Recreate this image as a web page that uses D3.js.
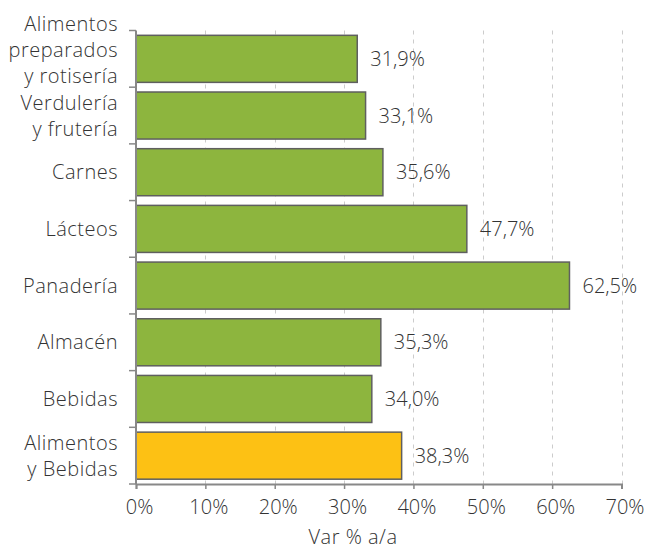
<!DOCTYPE html>
<html>
<head>
<meta charset="utf-8">
<script src="https://cdn.jsdelivr.net/npm/d3@7"></script>
<style>
  html, body { margin: 0; padding: 0; background: #fff; }
  svg text { font-family: "Open Sans", "Lato", sans-serif; font-weight: 300; fill: #333; }
</style>
</head>
<body>
<svg id="chart" width="646" height="549"></svg>
<script>
// Year-over-year price variation by product group
const categories = [
  "Alimentos preparados y rotisería",
  "Verdulería y frutería",
  "Carnes",
  "Lácteos",
  "Panadería",
  "Almacén",
  "Bebidas",
  "Alimentos y Bebidas"
];
const categoryLines = [
  ["Alimentos", "preparados", "y rotisería"],
  ["Verdulería", "y frutería"],
  ["Carnes"],
  ["Lácteos"],
  ["Panadería"],
  ["Almacén"],
  ["Bebidas"],
  ["Alimentos", "y Bebidas"]
];
const values = [31.9, 33.1, 35.6, 47.7, 62.5, 35.3, 34.0, 38.3];
const highlight = [false, false, false, false, false, false, false, true];
const xTicks = [0, 10, 20, 30, 40, 50, 60, 70];
const xTitle = "Var % a/a";

const svg = d3.select("#chart");
const margin = { top: 30.5, left: 136 };
const innerW = 621.5 - margin.left;
const innerH = 484 - margin.top;

const g = svg.append("g").attr("transform", `translate(${margin.left},${margin.top})`);

const x = d3.scaleLinear().domain([0, 70]).range([0, innerW]);
const y = d3.scaleBand().domain(categories).range([0, innerH]).paddingInner(0.17).paddingOuter(0.085);

const fmt = v => d3.format(".1f")(v).replace(".", ",") + "%";

// dashed vertical gridlines
g.append("g")
  .selectAll("line")
  .data(xTicks.filter(t => t > 0))
  .join("line")
  .attr("x1", d => Math.round(x(d)) + 0.5)
  .attr("x2", d => Math.round(x(d)) + 0.5)
  .attr("y1", 0)
  .attr("y2", innerH)
  .attr("stroke", "#cccccc")
  .attr("stroke-width", 1)
  .attr("stroke-dasharray", "4,5");

// bars
g.append("g")
  .selectAll("rect")
  .data(categories)
  .join("rect")
  .attr("x", 0)
  .attr("y", d => y(d))
  .attr("width", (d, i) => x(values[i]))
  .attr("height", y.bandwidth())
  .attr("fill", (d, i) => highlight[i] ? "#fdc114" : "#8db53e")
  .attr("stroke", "#5f5f5f")
  .attr("stroke-width", 1.5);

// value labels
g.append("g")
  .selectAll("text")
  .data(categories)
  .join("text")
  .attr("x", (d, i) => x(values[i]) + 13)
  .attr("y", d => y(d) + y.bandwidth() / 2)
  .attr("dy", "0.36em")
  .attr("font-size", 20)
  .text((d, i) => fmt(values[i]));

// y axis (category boundaries as ticks)
const yAxisG = g.append("g");
yAxisG.append("line")
  .attr("x1", 0).attr("x2", 0).attr("y1", 0).attr("y2", innerH)
  .attr("stroke", "#888").attr("stroke-width", 2);
const bounds = d3.range(categories.length + 1).map(i => i * innerH / categories.length);
yAxisG.selectAll("line.tk")
  .data(bounds)
  .join("line")
  .attr("class", "tk")
  .attr("x1", -7).attr("x2", 0)
  .attr("y1", d => d).attr("y2", d => d)
  .attr("stroke", "#888").attr("stroke-width", 1.5);

// category labels; three-line labels sit a little higher in their band
const lineH = 26;
g.append("g")
  .selectAll("text")
  .data(categories)
  .join("text")
  .attr("text-anchor", "end")
  .attr("font-size", 20)
  .attr("letter-spacing", 0.5)
  .each(function(d, i) {
    const lines = categoryLines[i];
    const shift = lines.length > 2 ? -lineH / 3 : 0;
    const cy = y(d) + y.bandwidth() / 2 + shift;
    const t = d3.select(this);
    lines.forEach((ln, j) => {
      t.append("tspan")
        .attr("x", -18)
        .attr("y", cy + (j - (lines.length - 1) / 2) * lineH)
        .attr("dy", "0.36em")
        .text(ln);
    });
  });

// x axis
const xAxis = d3.axisBottom(x)
  .tickValues(xTicks)
  .tickFormat(d => d + "%")
  .tickSize(5)
  .tickPadding(11);
const xAxisG = g.append("g")
  .attr("transform", `translate(0,${innerH})`)
  .call(xAxis);
xAxisG.select(".domain").attr("stroke", "#888").attr("stroke-width", 2);
xAxisG.selectAll(".tick line").attr("stroke", "#888").attr("stroke-width", 1.5);
xAxisG.selectAll(".tick text")
  .attr("font-size", 20)
  .attr("fill", "#333")
  .attr("dx", 3)
  .style("font-family", "'Open Sans', 'Lato', sans-serif")
  .style("font-weight", 300);

// x axis title
svg.append("text")
  .attr("x", 353)
  .attr("y", 544)
  .attr("text-anchor", "middle")
  .attr("font-size", 20)
  .attr("letter-spacing", 0.5)
  .text(xTitle);
</script>
</body>
</html>
